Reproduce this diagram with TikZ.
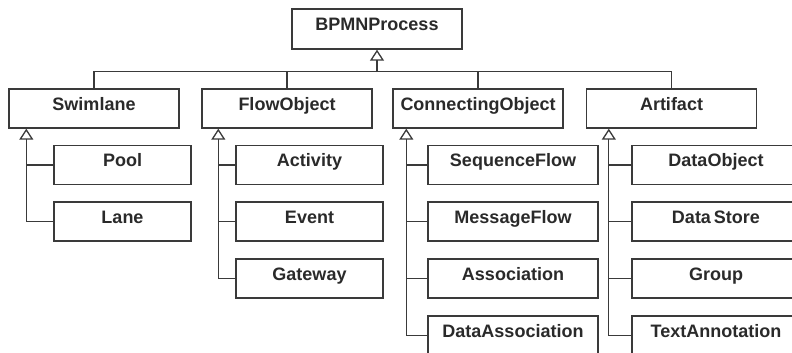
\documentclass[tikz,border=0pt]{standalone}
\usepackage{fontspec}
\setmainfont{Liberation Sans}
\usetikzlibrary{arrows.meta}
\definecolor{bcol}{HTML}{3A3A3A}
\definecolor{tcol}{HTML}{2A2A2A}
\begin{document}
\begin{tikzpicture}[x=1pt,y=-1pt,
  box/.style={draw=bcol, line width=1.4pt, fill=white, text=tcol,
    font=\bfseries\fontsize{18}{20}\selectfont, minimum height=39pt,
    text height=13pt, text depth=10pt, inner sep=0pt},
  conn/.style={draw=bcol, line width=1.3pt},
  inh/.style={conn, -{Triangle[open, width=14pt, length=11pt, line width=1.3pt]}}]
\useasboundingbox[fill=white] (0,0) rectangle (792,353);

% root
\node[box, minimum width=170pt, minimum height=40pt] (bpmn) at (377,29) {BPMNProcess};

% parents
\node[box, minimum width=170pt] (sw) at (94,108.5) {Swimlane};
\node[box, minimum width=170pt] (fo) at (287,108.5) {FlowObject};
\node[box, minimum width=170pt] (co) at (478,108.5) {ConnectingObject};
\node[box, minimum width=170pt] (ar) at (671.5,108.5) {Artifact};

% children of Swimlane
\node[box, minimum width=137pt] (pool) at (122.5,165) {Pool};
\node[box, minimum width=137pt] (lane) at (122.5,221.5) {Lane};

% children of FlowObject
\node[box, minimum width=147pt] (act) at (309.5,165) {Activity};
\node[box, minimum width=147pt] (ev) at (309.5,221.5) {Event};
\node[box, minimum width=147pt] (gw) at (309.5,278.5) {Gateway};

% children of ConnectingObject
\node[box, minimum width=170pt] (sf) at (513,165) {SequenceFlow};
\node[box, minimum width=170pt] (mf) at (513,221.5) {MessageFlow};
\node[box, minimum width=170pt] (as) at (513,278.5) {Association};
\node[box, minimum width=170pt] (da) at (513,335.5) {DataAssociation};

% children of Artifact
\node[box, minimum width=168pt] (dob) at (716,165) {DataObject};
\node[box, minimum width=168pt] (dst) at (716,221.5) {Data\,Store};
\node[box, minimum width=168pt] (grp) at (716,278.5) {Group};
\node[box, minimum width=168pt] (ta) at (716,335.5) {TextAnnotation};

% bus to root
\draw[conn] (sw.north) -- ++(0,-17) -| (ar.north);
\draw[conn] (fo.north) -- ++(0,-17);
\draw[conn] (co.north) -- ++(0,-17);
\coordinate (bus) at (bpmn.south |- 0,72);
\draw[inh] (bus) -- (bpmn.south);

% junction coordinates
\coordinate (swj) at ([xshift=18pt]sw.south west);
\coordinate (foj) at ([xshift=17pt]fo.south west);
\coordinate (coj) at ([xshift=14pt]co.south west);
\coordinate (arj) at ([xshift=23pt]ar.south west);

% Swimlane tree
\draw[inh] (lane.west) -| (swj);
\draw[conn] (pool.west) -- (swj |- pool.west);

% FlowObject tree
\draw[inh] (gw.west) -| (foj);
\draw[conn] (act.west) -- (foj |- act.west);
\draw[conn] (ev.west) -- (foj |- ev.west);

% ConnectingObject tree
\draw[inh] (da.west) -| (coj);
\draw[conn] (sf.west) -- (coj |- sf.west);
\draw[conn] (mf.west) -- (coj |- mf.west);
\draw[conn] (as.west) -- (coj |- as.west);

% Artifact tree
\draw[inh] (ta.west) -| (arj);
\draw[conn] (dob.west) -- (arj |- dob.west);
\draw[conn] (dst.west) -- (arj |- dst.west);
\draw[conn] (grp.west) -- (arj |- grp.west);
\end{tikzpicture}
\end{document}
